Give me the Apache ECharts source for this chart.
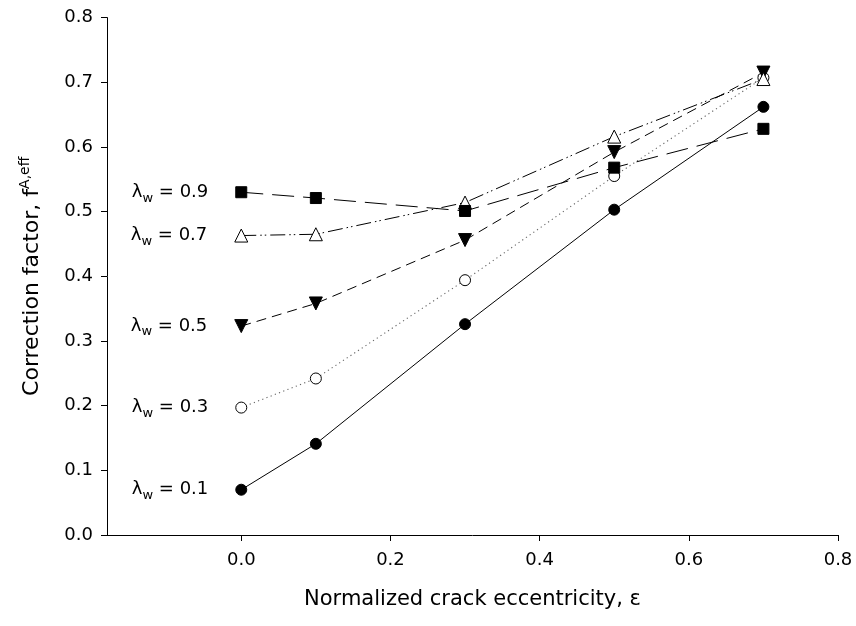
<!DOCTYPE html>
<html>
<head>
<meta charset="utf-8">
<script src="https://cdn.jsdelivr.net/npm/echarts@6/dist/echarts.min.js"></script>
<style>
  html, body { margin: 0; padding: 0; background: #fff; }
  #chart { width: 856px; height: 626px; }
</style>
</head>
<body>
<div id="chart"></div>
<script>
// Normalized crack eccentricity (x positions shared by every curve)
const eccentricity = [0.0, 0.1, 0.3, 0.5, 0.7];

// Correction factor f^{A,eff} for each crack-width ratio λw
const lambda01 = [0.070, 0.141, 0.326, 0.503, 0.662];
const lambda03 = [0.197, 0.242, 0.394, 0.555, 0.707];
const lambda05 = [0.323, 0.358, 0.456, 0.592, 0.715];
const lambda07 = [0.463, 0.465, 0.514, 0.616, 0.705];
const lambda09 = [0.530, 0.521, 0.501, 0.568, 0.628];

const lambdaNames = ['0.1', '0.3', '0.5', '0.7', '0.9'];
const xTicks = [0.0, 0.2, 0.4, 0.6, 0.8];

const FONT = '"DejaVu Sans", "Liberation Sans", Arial, sans-serif';
const FS = 18;
const X_TITLE_FS = 21;
const Y_TITLE_FS = 22;

function labelRich() {
  return {
    l: { fontFamily: FONT, fontSize: FS, color: '#000' },
    s: { fontFamily: FONT, fontSize: 13, color: '#000', padding: [12, 0, 0, 0] },
    t: { fontFamily: FONT, fontSize: FS, color: '#000' }
  };
}

function buildData(vals, name) {
  return eccentricity.map((x, i) => {
    const item = { value: [x, vals[i]] };
    if (i === 0) {
      item.label = {
        show: true,
        position: 'left',
        distance: 27,
        formatter: '{l|λ}{s|w}{t| = ' + name + '}',
        rich: labelRich()
      };
    }
    return item;
  });
}

const curves = [
  { vals: lambda01, name: lambdaNames[0], symbol: 'circle', size: 11, fill: '#000', rotate: 0,
    line: { type: 'solid', color: '#000', width: 1 } },
  { vals: lambda03, name: lambdaNames[1], symbol: 'circle', size: 11, fill: '#fff', rotate: 0,
    line: { type: [1.2, 3.3], color: '#666', width: 1.1 } },
  { vals: lambda05, name: lambdaNames[2], symbol: 'triangle', size: 13, fill: '#000', rotate: 180,
    line: { type: [10, 6], color: '#000', width: 1 } },
  { vals: lambda07, name: lambdaNames[3], symbol: 'triangle', size: 13, fill: '#fff', rotate: 0,
    line: { type: [15, 4, 1.5, 3, 1.5, 4], color: '#000', width: 1 } },
  { vals: lambda09, name: lambdaNames[4], symbol: 'rect', size: 11, fill: '#000', rotate: 0,
    line: { type: [22, 9], color: '#000', width: 1 } }
];

const series = curves.map(c => ({
  type: 'line',
  name: 'λw = ' + c.name,
  data: buildData(c.vals, c.name),
  symbol: c.symbol,
  symbolSize: c.size,
  symbolRotate: c.rotate,
  showAllSymbol: true,
  lineStyle: c.line,
  itemStyle: { color: c.fill, borderColor: '#000', borderWidth: 1, opacity: 1 },
  emphasis: { disabled: true },
  animation: false,
  z: 2
}));

const chart = echarts.init(document.getElementById('chart'), null, { renderer: 'canvas' });
chart.setOption({
  backgroundColor: '#fff',
  animation: false,
  textStyle: { fontFamily: FONT },
  grid: { left: 107, right: 18, top: 17.6, bottom: 91, containLabel: false },
  xAxis: {
    type: 'value',
    min: -0.18,
    max: 0.8,
    name: 'Normalized crack eccentricity, ε',
    nameLocation: 'middle',
    nameGap: 54,
    nameTextStyle: { fontFamily: FONT, fontSize: X_TITLE_FS, color: '#000' },
    axisLine: { onZero: false, lineStyle: { color: '#000', width: 1 } },
    axisTick: { show: true, inside: false, length: 6, customValues: xTicks, lineStyle: { color: '#000' } },
    axisLabel: {
      customValues: xTicks, margin: 16, color: '#000', fontFamily: FONT, fontSize: FS,
      formatter: v => v.toFixed(1)
    },
    splitLine: { show: false }
  },
  yAxis: {
    type: 'value',
    min: 0,
    max: 0.8,
    interval: 0.1,
    name: '{n|Correction factor, f}{p|A,eff}',
    nameLocation: 'middle',
    nameGap: 60,
    nameRotate: 90,
    nameTextStyle: {
      rich: {
        n: { fontFamily: FONT, fontSize: Y_TITLE_FS, color: '#000' },
        p: { fontFamily: FONT, fontSize: 14, color: '#000', padding: [0, 0, 15, 0] }
      }
    },
    axisLine: { show: true, onZero: false, lineStyle: { color: '#000', width: 1 } },
    axisTick: { show: true, inside: false, length: 6, lineStyle: { color: '#000' } },
    axisLabel: {
      margin: 14, color: '#000', fontFamily: FONT, fontSize: FS,
      formatter: v => v.toFixed(1)
    },
    splitLine: { show: false }
  },
  series: series
});
</script>
</body>
</html>
